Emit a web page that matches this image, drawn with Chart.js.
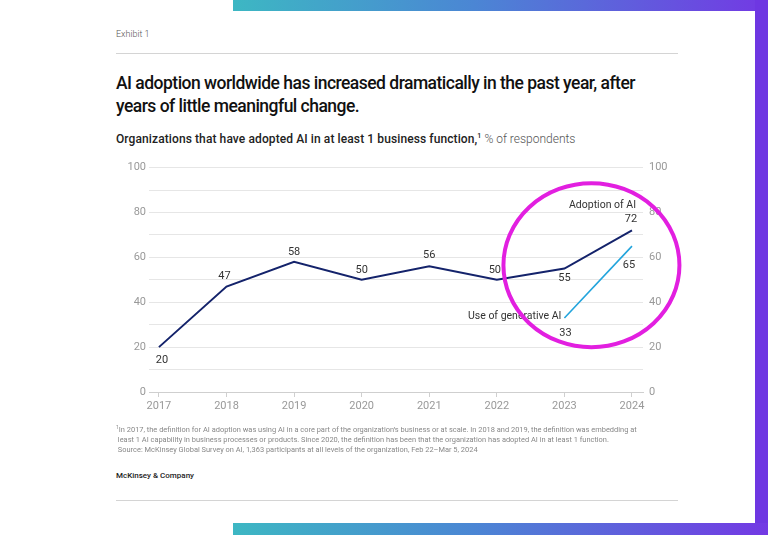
<!DOCTYPE html>
<html>
<head>
<meta charset="utf-8">
<script src="https://cdn.jsdelivr.net/npm/chart.js@4"></script>
<style>
  html, body { margin: 0; padding: 0; }
  body { width: 768px; height: 535px; position: relative; overflow: hidden; background: #fff; font-family: "Roboto", "Liberation Sans", sans-serif; }
  .barTop { position: absolute; left: 233px; top: 0; width: 535px; height: 11px; background: linear-gradient(to right, #3db7c3, #4b86d4 45%, #7339e4); }
  .barRight { position: absolute; left: 755px; top: 0; width: 13px; height: 535px; background: #6e37e2; }
  .barBottom { position: absolute; left: 233px; top: 523px; width: 535px; height: 12px; background: linear-gradient(to right, #3db7c3, #4b86d4 45%, #7339e4); }
  .exhibit { position: absolute; left: 116px; top: 29px; font-size: 9px; color: #555; font-weight: 300; }
  .rule { position: absolute; left: 116px; width: 562px; height: 1px; background: #d4d4d4; }
  .title { position: absolute; left: 116px; top: 72px; font-size: 17.5px; line-height: 23px; font-weight: 500; color: #111; letter-spacing: -0.52px; }
  .sub { position: absolute; left: 116px; top: 132px; font-size: 12px; color: #222; white-space: nowrap; }
  .sub b { font-weight: 500; letter-spacing: 0.1px; }
  .sub sup { font-size: 7px; }
  .sub span { color: #555; font-weight: 300; }
  .notes { position: absolute; left: 116px; top: 422px; font-size: 7.45px; line-height: 10px; color: #888; white-space: nowrap; }
  .brand { position: absolute; left: 116px; top: 471px; font-size: 8px; font-weight: 500; color: #222; }
  canvas { position: absolute; left: 110px; top: 155px; }
</style>
</head>
<body>
<div class="barTop"></div>
<div class="barRight"></div>
<div class="barBottom"></div>
<div class="exhibit">Exhibit 1</div>
<div class="rule" style="top:53px"></div>
<div class="title">AI adoption worldwide has increased dramatically in the past year, after<br>years of little meaningful change.</div>
<div class="sub"><b>Organizations that have adopted AI in at least 1 business function,<sup>1</sup></b> <span>% of respondents</span></div>
<canvas id="grafico" width="580" height="270"></canvas>
<div class="notes">
  <sup style="font-size:5px">1</sup>In 2017, the definition for AI adoption was using AI in a core part of the organization’s business or at scale. In 2018 and 2019, the definition was embedding at<br>
  &nbsp;least 1 AI capability in business processes or products. Since 2020, the definition has been that the organization has adopted AI in at least 1 function.<br>
  &nbsp;Source: McKinsey Global Survey on AI, 1,363 participants at all levels of the organization, Feb 22–Mar 5, 2024
</div>
<div class="brand">McKinsey &amp; Company</div>
<div class="rule" style="top:500px"></div>

<script>
const anos = [2017, 2018, 2019, 2020, 2021, 2022, 2023, 2024];
const adopcao = [20, 47, 58, 50, 56, 50, 55, 72];
const anosGenAI = [2023, 2024];
const genAI = [33, 65];
const ticksY = [0, 20, 40, 60, 80, 100];

const nomeAdopcao = "Adoption of AI";
const nomeGenAI = "Use of generative AI";

// posição dos rótulos de valor (dx, dy em px)
const rotulosAdopcao = [[3, 13], [-2, -10], [0, -10], [0, -10], [0, -11], [-2, -10], [0, 10], [-1, -11]];
const rotulosGenAI = [[1, 15], [-3, 19]];

const AZUL_ESCURO = "#14236b";
const AZUL_CLARO = "#22a4dc";

const rotulos = {
  id: "rotulos",
  afterDatasetsDraw(chart) {
    const ctx = chart.ctx;
    ctx.save();
    ctx.font = "11px Roboto, 'Liberation Sans', sans-serif";
    ctx.fillStyle = "#333";
    ctx.textBaseline = "middle";
    ctx.textAlign = "center";
    const sets = [rotulosAdopcao, rotulosGenAI];
    chart.data.datasets.forEach((ds, i) => {
      const meta = chart.getDatasetMeta(i);
      meta.data.forEach((pt, j) => {
        const [dx, dy] = sets[i][j];
        ctx.fillText(ds.data[j].y, pt.x + dx, pt.y + dy);
      });
    });
    // nomes das séries
    ctx.textAlign = "right";
    ctx.font = "10.5px Roboto, 'Liberation Sans', sans-serif";
    const m0 = chart.getDatasetMeta(0).data;
    const fim = m0[m0.length - 1];
    ctx.fillText(nomeAdopcao, fim.x + 4, fim.y - 25);
    const g0 = chart.getDatasetMeta(1).data[0];
    ctx.fillText(nomeGenAI, g0.x - 3, g0.y - 2);
    ctx.restore();
  },
  afterDraw(chart) {
    const { ctx, scales } = chart;
    const cx = scales.x.getPixelForValue(2023.4);
    const cy = scales.y.getPixelForValue(56.5);
    ctx.save();
    ctx.strokeStyle = "#e21fe0";
    ctx.lineWidth = 4;
    ctx.beginPath();
    ctx.ellipse(cx, cy, 88, 82, 0, 0, Math.PI * 2);
    ctx.stroke();
    ctx.restore();
  }
};

const fonteTicks = { family: "Roboto, 'Liberation Sans', sans-serif", size: 11 };

new Chart(document.getElementById("grafico").getContext("2d"), {
  type: "line",
  data: {
    datasets: [
      {
        label: nomeAdopcao,
        data: anos.map((a, i) => ({ x: a, y: adopcao[i] })),
        borderColor: AZUL_ESCURO,
        borderWidth: 2,
        pointRadius: 0,
        tension: 0
      },
      {
        label: nomeGenAI,
        data: anosGenAI.map((a, i) => ({ x: a, y: genAI[i] })),
        borderColor: AZUL_CLARO,
        borderWidth: 1.6,
        pointRadius: 0,
        tension: 0
      }
    ]
  },
  options: {
    responsive: false,
    animation: false,
    devicePixelRatio: 1,
    layout: { padding: { top: 12, left: 0, right: 0, bottom: 0 } },
    plugins: { legend: { display: false }, tooltip: { enabled: false } },
    scales: {
      x: {
        type: "linear",
        min: 2016.853,
        max: 2024.163,
        afterBuildTicks: s => { s.ticks = anos.map(v => ({ value: v })); },
        afterFit: s => { s.height = 33; },
        grid: { drawOnChartArea: false, drawTicks: true, tickLength: 5, color: "#cfcfcf" },
        border: { color: "#cfcfcf" },
        ticks: { color: "#999", font: fonteTicks, padding: 3, maxRotation: 0, callback: v => String(v) }
      },
      y: {
        position: "left",
        min: 0,
        max: 100,
        afterBuildTicks: s => { s.ticks = [0, 10, 20, 30, 40, 50, 60, 70, 80, 90, 100].map(v => ({ value: v })); },
        afterFit: s => { s.width = 39; },
        grid: { color: "#e6e6e6", drawTicks: false },
        border: { display: false },
        ticks: { color: "#999", font: fonteTicks, padding: 3, callback: v => ticksY.includes(v) ? v : "" }
      },
      y2: {
        position: "right",
        min: 0,
        max: 100,
        afterBuildTicks: s => { s.ticks = ticksY.map(v => ({ value: v })); },
        afterFit: s => { s.width = 47; },
        grid: { display: false, drawTicks: false },
        border: { display: false },
        ticks: { color: "#999", font: fonteTicks, padding: 6 }
      }
    }
  },
  plugins: [rotulos]
});
</script>
</body>
</html>
